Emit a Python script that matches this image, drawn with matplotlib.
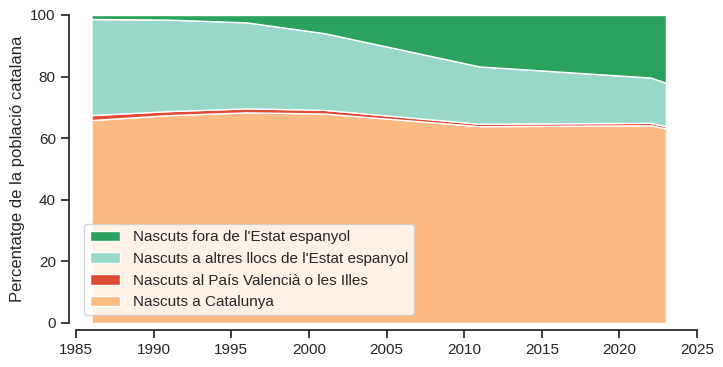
import numpy as np
import matplotlib
matplotlib.use("Agg")
import matplotlib.pyplot as plt
import seaborn as sns

anys = [1986, 1991, 1996, 2001, 2011, 2022, 2023]
catalunya = [65.9, 67.5, 68.4, 68.0, 63.9, 64.2, 63.2]
pv_illes = [1.6, 1.3, 1.3, 1.2, 0.8, 0.8, 0.7]
altres_estat = [31.2, 29.7, 27.9, 24.9, 18.6, 14.7, 14.1]
fora = [100 - a - b - c for a, b, c in zip(catalunya, pv_illes, altres_estat)]

etiquetes = ["Nascuts a Catalunya", "Nascuts al País Valencià o les Illes",
             "Nascuts a altres llocs de l'Estat espanyol", "Nascuts fora de l'Estat espanyol"]
colors = ["#fdbb84", "#e34a33", "#99d8c9", "#2ca25f"]

sns.set_theme(style="ticks")
plt.rcParams['font.family'] = ['Liberation Sans', 'DejaVu Sans']

fig, ax = plt.subplots(figsize=(7.23, 3.67), dpi=100)
ax.stackplot(anys, catalunya, pv_illes, altres_estat, fora,
             labels=etiquetes, colors=colors, edgecolor="white", linewidth=1)
ax.set_xlim(1985, 2025)
ax.set_ylim(0, 100)
ax.set_xticks(range(1985, 2026, 5))
ax.set_ylabel("Percentatge de la població catalana")

# llegenda en ordre invers (de dalt a baix)
handles, labels = ax.get_legend_handles_labels()
ax.legend(handles[::-1], labels[::-1], loc="lower left")

sns.despine(offset=5)
fig.subplots_adjust(left=76/723, right=697/723, top=1 - 15/367, bottom=1 - 323/367)
fig.savefig("out.png", dpi=100)
